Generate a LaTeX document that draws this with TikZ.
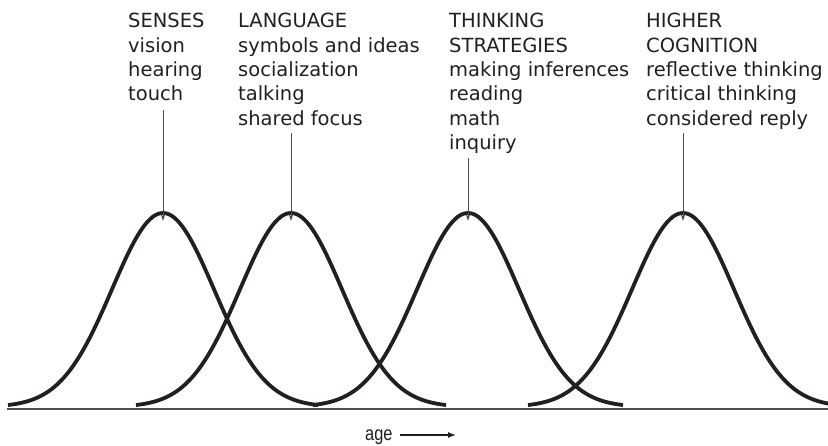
\documentclass[tikz,border=0pt]{standalone}
\usepackage{fontspec}
\setmainfont{DejaVu Sans}
\newfontfamily\agefont{Liberation Sans}[FakeStretch=0.82]
\usetikzlibrary{arrows.meta}
\definecolor{ink}{HTML}{231F20}
\definecolor{rulegray}{HTML}{4D4D4F}
\begin{document}
\begin{tikzpicture}[x=1pt,y=-1pt,
  stagetext/.style={anchor=north west, align=left, inner sep=0pt, text=ink,
    font=\fontsize{19.5}{24.4}\selectfont},
  pointer/.style={draw=rulegray, line width=0.9pt, -{Stealth[length=7pt,width=4.5pt]}},
  bell/.style={draw=ink, line width=3.8pt},
  axisline/.style={draw=rulegray, line width=1.6pt},
  agetext/.style={anchor=base west, inner sep=0pt, text=ink,
    font=\agefont\fontsize{20}{24}\selectfont},
  agearrow/.style={draw=ink, line width=1.3pt, -{Latex[length=8pt,width=6pt]}}
]
\useasboundingbox (0,0) rectangle (828,445);
\clip (0,0) rectangle (828,445);

% peak tops of the four developmental curves
\coordinate (p1) at (163,213);
\coordinate (p2) at (291,213);
\coordinate (p3) at (468,213);
\coordinate (p4) at (683,213);

% bell curves: Gaussian, sigma 51, half width 155, foot at y=405
\foreach \cx in {163,291,468,683}{
  \draw[bell] plot[domain=-155:155, samples=121, smooth]
    ({\cx+\x},{405-192*(exp(-0.5*(\x/51)*(\x/51))-0.00988)/0.99012});
}

% age axis
\coordinate (axl) at (7,409);
\coordinate (axr) at (828,409);
\draw[axisline] (axl) -- (axr);

% stage descriptions (top line of capitals starts at y=13)
\node[stagetext] (senses)   at (128,13) {SENSES\\vision\\hearing\\touch};
\node[stagetext] (language) at (238,13) {LANGUAGE\\symbols and ideas\\socialization\\talking\\shared focus};
\node[stagetext] (thinking) at (449,13) {THINKING\\STRATEGIES\\making inferences\\reading\\math\\inquiry};
\node[stagetext] (higher)   at (646,13) {HIGHER\\COGNITION\\reflective thinking\\critical thinking\\considered reply};

% pointers from the descriptions to the curve peaks
\coordinate (s1) at (163,110);
\coordinate (s2) at (291,133);
\coordinate (s3) at (468,158);
\coordinate (s4) at (683,133);
\draw[pointer] (s1) -- ([yshift=-8pt]p1);
\draw[pointer] (s2) -- ([yshift=-8pt]p2);
\draw[pointer] (s3) -- ([yshift=-8pt]p3);
\draw[pointer] (s4) -- ([yshift=-8pt]p4);

% axis caption
\node[agetext] (age) at (365,440) {age};
\coordinate (ageend) at (456,435);
\draw[agearrow] (age.east |- ageend) ++(7,0) coordinate (agestart) -- (ageend);
\end{tikzpicture}
\end{document}
